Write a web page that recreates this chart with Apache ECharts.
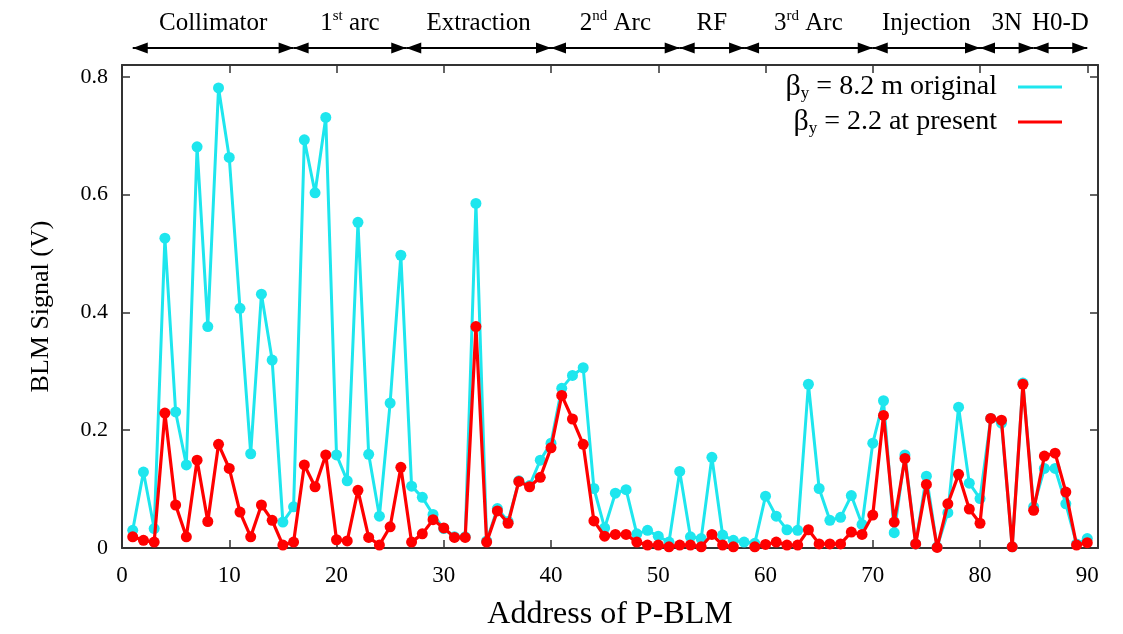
<!DOCTYPE html>
<html>
<head>
<meta charset="utf-8">
<script src="https://cdn.jsdelivr.net/npm/echarts@6/dist/echarts.min.js"></script>
<style>
html,body{margin:0;padding:0;background:#fff;}
#chart{width:1123px;height:634px;}
</style>
</head>
<body>
<div id="chart"></div>
<script>
// ---------------- data ----------------
const addresses = [1,2,3,4,5,6,7,8,9,10,11,12,13,14,15,16,17,18,19,20,
  21,22,23,24,25,26,27,28,29,30,31,32,33,34,35,36,37,38,39,40,
  41,42,43,44,45,46,47,48,49,50,51,52,53,54,55,56,57,58,59,60,
  61,62,63,64,65,66,67,68,69,70,71,72,73,74,75,76,77,78,79,80,
  81,82,83,84,85,86,87,88,89,90];

const betaOriginal = [0.030,0.129,0.033,0.526,0.231,0.141,0.681,0.376,0.781,0.663,
  0.407,0.160,0.431,0.319,0.044,0.070,0.693,0.603,0.731,0.158,
  0.114,0.553,0.159,0.054,0.246,0.497,0.105,0.086,0.057,0.033,
  0.019,0.019,0.585,0.012,0.067,0.045,0.114,0.106,0.149,0.178,
  0.271,0.293,0.306,0.101,0.034,0.093,0.099,0.024,0.030,0.020,
  0.010,0.130,0.019,0.016,0.154,0.022,0.013,0.010,0.008,0.088,
  0.054,0.031,0.030,0.278,0.101,0.047,0.052,0.089,0.040,0.178,
  0.250,0.026,0.158,0.007,0.122,0.002,0.060,0.239,0.110,0.084,
  0.220,0.212,0.002,0.280,0.070,0.135,0.135,0.075,0.007,0.016];

const betaPresent = [0.019,0.013,0.010,0.229,0.073,0.019,0.149,0.045,0.176,0.135,
  0.061,0.019,0.073,0.047,0.005,0.010,0.141,0.104,0.158,0.014,
  0.012,0.098,0.018,0.005,0.036,0.137,0.010,0.024,0.048,0.034,
  0.018,0.018,0.376,0.010,0.063,0.042,0.113,0.104,0.120,0.170,
  0.259,0.219,0.176,0.046,0.020,0.023,0.023,0.010,0.005,0.005,
  0.002,0.005,0.005,0.002,0.023,0.005,0.002,null,0.002,0.006,
  0.010,0.005,0.005,0.031,0.007,0.007,0.007,0.027,0.023,0.056,
  0.225,0.044,0.152,0.007,0.108,0.001,0.075,0.125,0.066,0.042,
  0.220,0.217,0.002,0.278,0.064,0.156,0.161,0.095,0.005,0.009];

const seriesNames = ['βy = 8.2 m original', 'βy = 2.2 at present'];
const seriesColors = ['#1ee6ee', '#ff0000'];

const sectionBounds = [1, 16, 26.5, 40, 52, 58, 70, 80, 85, 90];
const sectionLabels = ['Collimator', '1st arc', 'Extraction', '2nd Arc', 'RF', '3rd Arc', 'Injection', '3N', 'H0-D'];

const X_MIN = 0, X_MAX = 91, X_STEP = 10;
const Y_MIN = 0, Y_MAX = 0.82, Y_STEP = 0.2;

// ---------------- chart ----------------
const FONT = '"Liberation Serif", "DejaVu Serif", serif';
const FRAME = '#333';
// arrow head whose tip sits at the centre of its box (so the tip lands on the end point)
const ARROW_HEAD = 'path://M0,-15 M0,0 L5.5,15 L-5.5,15 Z';

function supLabel(s) {
  const m = s.match(/^(\d)(st|nd|rd)(.*)$/);
  if (!m) return '{a|' + s + '}';
  return '{a|' + m[1] + '}{s|' + m[2] + '}{a|' + m[3] + '}';
}
function legendLabel(name) {
  return '{g|β}{sub|y}{t|' + name.slice(2) + '}';
}

const sectionLines = [];
for (let i = 0; i < sectionLabels.length; i++) {
  sectionLines.push([
    { name: sectionLabels[i], coord: [sectionBounds[i], 0.5] },
    { coord: [sectionBounds[i + 1], 0.5] }
  ]);
}

const frameAxisBase = {
  axisLine: { show: true, onZero: false, lineStyle: { color: FRAME, width: 2 } },
  axisTick: { show: true, inside: true, length: 8, lineStyle: { color: FRAME, width: 1.5 } },
  splitLine: { show: false }
};

const chart = echarts.init(document.getElementById('chart'), null, { renderer: 'canvas' });
chart.setOption({
  animation: false,
  backgroundColor: '#fff',
  textStyle: { fontFamily: FONT },
  grid: [
    { left: 122, right: 25, top: 65, bottom: 86, outerBoundsMode: 'none', containLabel: false },
    { left: 122, right: 25, top: 38, height: 20, outerBoundsMode: 'none', containLabel: false }
  ],
  legend: {
    show: true,
    orient: 'vertical',
    right: 61,
    top: 72,
    padding: 0,
    align: 'right',
    icon: 'rect',
    itemWidth: 44,
    itemHeight: 3,
    itemGap: 5,
    selectedMode: false,
    data: seriesNames.map((n, i) => ({ name: n, itemStyle: { color: seriesColors[i] } })),
    formatter: legendLabel,
    textStyle: {
      fontFamily: FONT, color: '#000', padding: [0, 16, 0, 0],
      rich: {
        g: { fontFamily: FONT, fontSize: 30, color: '#000', lineHeight: 30 },
        sub: { fontFamily: FONT, fontSize: 17, color: '#000', verticalAlign: 'bottom' },
        t: { fontFamily: FONT, fontSize: 28, color: '#000', lineHeight: 30 }
      }
    }
  },
  xAxis: [
    Object.assign({}, frameAxisBase, {
      type: 'value', gridIndex: 0, position: 'bottom',
      min: X_MIN, max: X_MAX, interval: X_STEP,
      axisLabel: { show: true, fontFamily: FONT, fontSize: 23, color: '#000', margin: 16, showMaxLabel: false },
      name: 'Address of P-BLM', nameLocation: 'middle', nameGap: 51,
      nameTextStyle: { fontFamily: FONT, fontSize: 32, color: '#000' }
    }),
    Object.assign({}, frameAxisBase, {
      type: 'value', gridIndex: 0, position: 'top',
      min: X_MIN, max: X_MAX, interval: X_STEP,
      axisLabel: { show: false }
    }),
    { type: 'value', gridIndex: 1, min: X_MIN, max: X_MAX, show: false }
  ],
  yAxis: [
    Object.assign({}, frameAxisBase, {
      type: 'value', gridIndex: 0, position: 'left',
      min: Y_MIN, max: Y_MAX, interval: Y_STEP,
      axisLabel: { show: true, fontFamily: FONT, fontSize: 22, color: '#000', margin: 14, showMaxLabel: false },
      name: 'BLM Signal (V)', nameLocation: 'middle', nameGap: 68, nameRotate: 90,
      nameTextStyle: { fontFamily: FONT, fontSize: 26, color: '#000' }
    }),
    Object.assign({}, frameAxisBase, {
      type: 'value', gridIndex: 0, position: 'right',
      min: Y_MIN, max: Y_MAX, interval: Y_STEP,
      axisLabel: { show: false }
    }),
    { type: 'value', gridIndex: 1, min: 0, max: 1, show: false }
  ],
  series: [
    {
      type: 'line', name: seriesNames[0], xAxisIndex: 0, yAxisIndex: 0,
      data: addresses.map((a, i) => [a, betaOriginal[i]]),
      symbol: 'circle', symbolSize: 11, showAllSymbol: true,
      lineStyle: { width: 3, color: seriesColors[0] },
      itemStyle: { color: seriesColors[0] },
      emphasis: { disabled: true }, z: 2
    },
    {
      type: 'line', name: seriesNames[1], xAxisIndex: 0, yAxisIndex: 0,
      data: addresses.map((a, i) => [a, betaPresent[i]]),
      symbol: 'circle', symbolSize: 11, showAllSymbol: true, connectNulls: false,
      lineStyle: { width: 3.2, color: seriesColors[1] },
      itemStyle: { color: seriesColors[1] },
      emphasis: { disabled: true }, z: 3
    },
    {
      type: 'line', name: 'sections', xAxisIndex: 2, yAxisIndex: 2,
      data: [], silent: true,
      markLine: {
        silent: true,
        symbol: [ARROW_HEAD, ARROW_HEAD],
        symbolSize: [11, 30],
        lineStyle: { color: '#000', width: 2.2, type: 'solid' },
        emphasis: { disabled: true },
        label: {
          show: true, position: 'middle', distance: 11,
          formatter: p => supLabel(p.name),
          rich: {
            a: { fontFamily: FONT, fontSize: 25, color: '#000', lineHeight: 28 },
            s: { fontFamily: FONT, fontSize: 15, color: '#000', verticalAlign: 'top' }
          }
        },
        data: sectionLines
      }
    }
  ]
});
</script>
</body>
</html>
